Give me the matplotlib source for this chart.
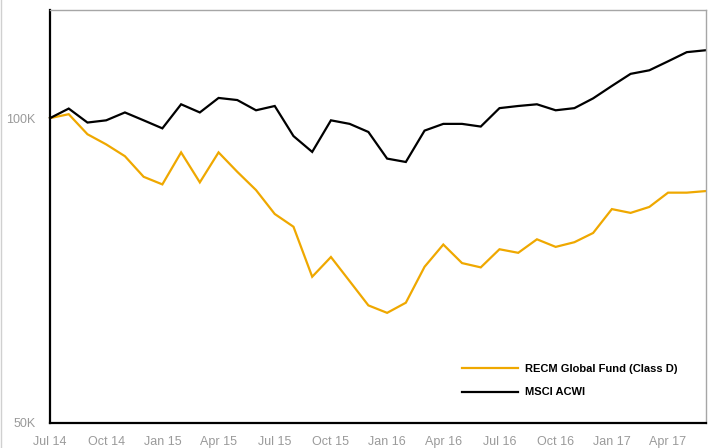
import matplotlib
matplotlib.use("Agg")
import matplotlib.pyplot as plt
from matplotlib.lines import Line2D
from matplotlib.ticker import FixedLocator, FixedFormatter, NullLocator

plt.rcParams['font.family'] = ['Liberation Sans Narrow', 'Liberation Sans', 'DejaVu Sans']

# Monthly index values (thousands), Jul 2014 .. Jun 2017
months = list(range(36))
recm = [100.0, 100.9, 96.4, 94.2, 91.7, 87.5, 86.0, 92.5, 86.4, 92.5, 88.5, 84.9,
        80.4, 78.1, 69.7, 72.9, 69.0, 65.3, 64.2, 65.7, 71.3, 75.0, 71.9, 71.2,
        74.2, 73.6, 75.9, 74.6, 75.4, 77.0, 81.3, 80.6, 81.7, 84.4, 84.4, 84.7]
acwi = [100.0, 102.2, 99.0, 99.5, 101.3, 99.5, 97.7, 103.2, 101.3, 104.7, 104.2, 101.8,
        102.8, 96.0, 92.6, 99.5, 98.7, 96.9, 91.2, 90.5, 97.2, 98.7, 98.7, 98.1,
        102.3, 102.8, 103.2, 101.8, 102.3, 104.6, 107.6, 110.6, 111.5, 113.8, 116.2, 116.7]

xtick_pos = [0, 3, 6, 9, 12, 15, 18, 21, 24, 27, 30, 33]
xtick_labels = ["Jul 14", "Oct 14", "Jan 15", "Apr 15", "Jul 15", "Oct 15",
                "Jan 16", "Apr 16", "Jul 16", "Oct 16", "Jan 17", "Apr 17"]
ytick_pos = [50, 100]
ytick_labels = ["50K", "100K"]

series_names = ["RECM Global Fund (Class D)", "MSCI ACWI"]
series_colors = ["#EFA800", "#000000"]

fig = plt.figure(figsize=(7.10, 4.48), dpi=100)
ax = fig.add_axes([50/710, (448-422.7)/448, (705.5-50)/710, (422.7-10)/448])

for vals, name, col in zip([recm, acwi], series_names, series_colors):
    ax.plot(months, vals, color=col, lw=1.6, label=name, clip_on=False,
            solid_joinstyle='miter')

ax.set_yscale('log')
ax.set_ylim(50, 127.9)
ax.set_xlim(0, 35)

ax.yaxis.set_major_locator(FixedLocator(ytick_pos))
ax.yaxis.set_major_formatter(FixedFormatter(ytick_labels))
ax.yaxis.set_minor_locator(NullLocator())
ax.xaxis.set_major_locator(FixedLocator(xtick_pos))
ax.xaxis.set_major_formatter(FixedFormatter(xtick_labels))

ax.tick_params(axis='both', which='both', length=0, labelcolor='#9a9a9a', labelsize=9)
ax.tick_params(axis='y', pad=10.5)
ax.tick_params(axis='x', pad=9.5)

for s in ['left', 'bottom']:
    ax.spines[s].set_color('black')
    ax.spines[s].set_linewidth(1.6)
for s in ['top', 'right']:
    ax.spines[s].set_color('#a6a6a6')
    ax.spines[s].set_linewidth(1.0)

leg = ax.legend(loc='upper left', bbox_to_anchor=(0.629, 0.142), frameon=False,
                handlelength=5.0, handletextpad=0.65, labelspacing=1.2,
                borderaxespad=0, borderpad=0,
                prop={'weight': 'bold', 'size': 8})

fig.add_artist(Line2D([0.5/710, 0.5/710], [0, 1], transform=fig.transFigure,
                      color='#d0d0d0', lw=1))

fig.savefig("out.png", dpi=100)
